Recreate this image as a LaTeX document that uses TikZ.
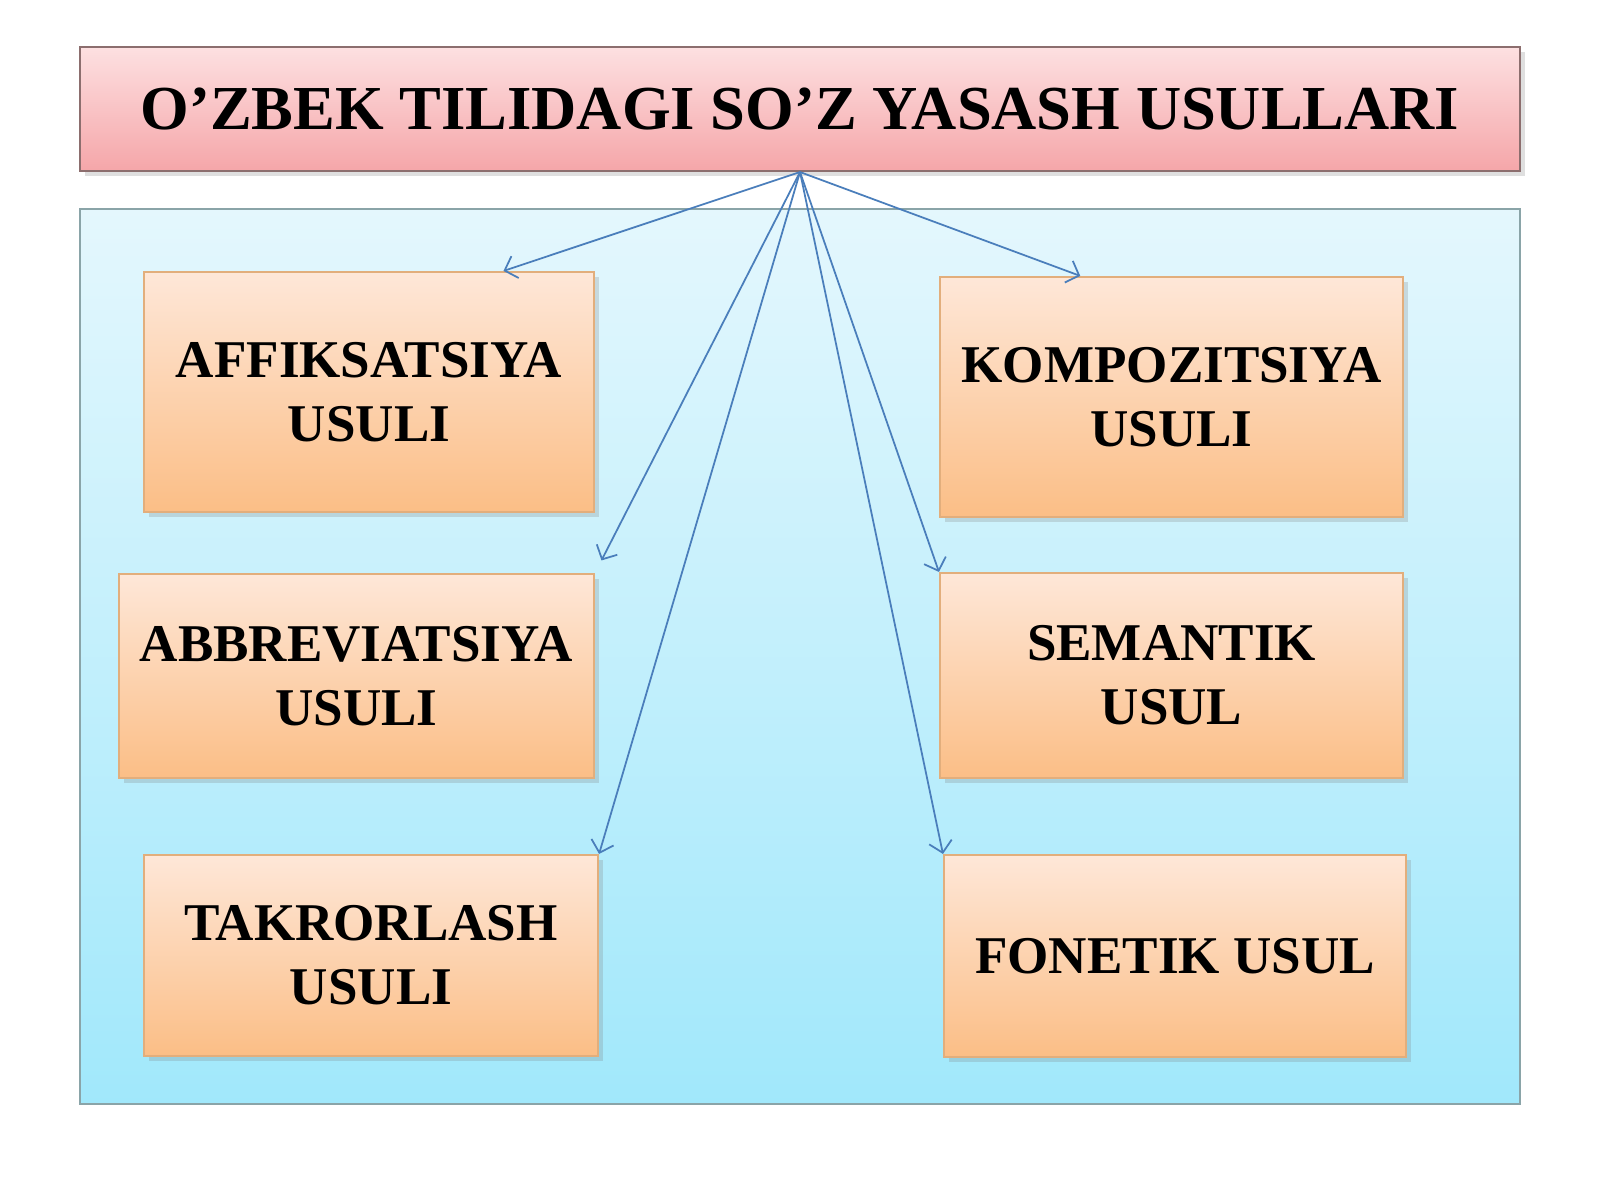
\documentclass[tikz,border=0pt]{standalone}
\usepackage{fontspec}
\setmainfont{Liberation Serif}
\usetikzlibrary{arrows.meta,shadows}

\definecolor{sarlavhaA}{HTML}{FDE0E1}
\definecolor{sarlavhaB}{HTML}{F5A6A9}
\definecolor{sarlavhaChiziq}{HTML}{8C6E6E}
\definecolor{panelA}{HTML}{E4F7FD}
\definecolor{panelB}{HTML}{A1E8FB}
\definecolor{panelChiziq}{HTML}{8AA4A8}
\definecolor{usulA}{HTML}{FEE7D8}
\definecolor{usulB}{HTML}{FBBE86}
\definecolor{usulChiziq}{HTML}{E2AE7C}
\definecolor{strelkaRang}{HTML}{4A7EBB}

\tikzset{
  usul/.style={draw=usulChiziq, line width=0.6pt, top color=usulA, bottom color=usulB,
    align=center, inner sep=0pt, font=\fontsize{15.1}{18.3}\selectfont\bfseries,
    drop shadow={shadow xshift=0.5mm, shadow yshift=-0.5mm, opacity=0.25}},
  strelka/.style={->, draw=strelkaRang, line width=0.5pt},
  >={Straight Barb[length=1.1mm,width=2.3mm]}
}

\begin{document}
\begin{tikzpicture}
    \useasboundingbox (0,0) rectangle (16,12);

    % Sarlavha
    \node[draw=sarlavhaChiziq, line width=0.6pt, top color=sarlavhaA, bottom color=sarlavhaB,
      minimum width=14.4cm, minimum height=1.24cm, inner sep=0pt,
      font=\fontsize{17.8}{21}\selectfont\bfseries,
      drop shadow={shadow xshift=0.5mm, shadow yshift=-0.5mm, opacity=0.25}]
      (sarlavha) at (8.0,10.91) {O’ZBEK TILIDAGI SO’Z YASASH USULLARI};

    % Fon paneli
    \draw[panelChiziq, line width=0.6pt, top color=panelA, bottom color=panelB]
      (0.8,0.96) rectangle (15.2,9.91);

    % Usullar
    \node[usul, minimum width=4.50cm, minimum height=2.40cm] (affiks) at (3.69,8.08) {AFFIKSATSIYA\\USULI};
    \node[usul, minimum width=4.63cm, minimum height=2.40cm] (kompoz) at (11.715,8.03) {KOMPOZITSIYA\\USULI};
    \node[usul, minimum width=4.75cm, minimum height=2.04cm] (abbrev) at (3.565,5.24) {ABBREVIATSIYA\\USULI};
    \node[usul, minimum width=4.63cm, minimum height=2.05cm] (semant) at (11.715,5.245) {SEMANTIK\\USUL};
    \node[usul, minimum width=4.54cm, minimum height=2.01cm] (takror) at (3.71,2.445) {TAKRORLASH\\USULI};
    \node[usul, minimum width=4.62cm, minimum height=2.02cm] (fonet) at (11.75,2.44) {FONETIK USUL};

    % Strelkalar
    \draw[strelka] (sarlavha.south) -- (affiks.42.5);
    \draw[strelka] (sarlavha.south) -- (kompoz.127.3);
    \draw[strelka, shorten >=4pt] (sarlavha.south) -- (abbrev.north east);
    \draw[strelka] (sarlavha.south) -- (takror.north east);
    \draw[strelka] (sarlavha.south) -- (semant.north west);
    \draw[strelka] (sarlavha.south) -- (fonet.north west);
\end{tikzpicture}
\end{document}
